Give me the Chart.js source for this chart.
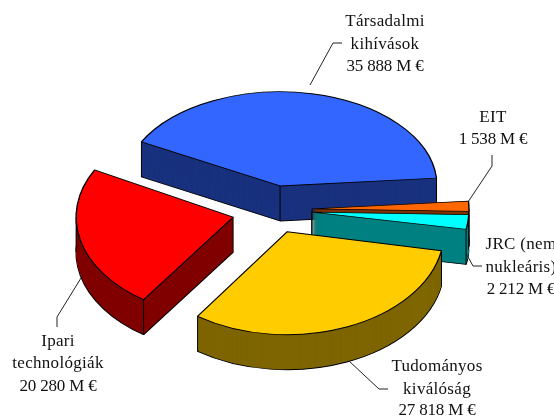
<!DOCTYPE html>
<html>
<head>
<meta charset="utf-8">
<style>
  html, body { margin: 0; padding: 0; background: #fff; }
  canvas { display: block; }
</style>
<script src="https://cdn.jsdelivr.net/npm/chart.js@4"></script>
</head>
<body>
<canvas id="pie3d" width="554" height="419"></canvas>
<script>
// values in M EUR, clockwise from the left edge of the blue slice
const categories = ['Társadalmi kihívások', 'EIT', 'JRC (nem nukleáris)', 'Tudományos kiválóság', 'Ipari technológiák'];
const values = [35888, 1538, 2212, 27818, 20280];
const topColours = ['#3366ff', '#ff6600', '#00ffff', '#ffcc00', '#ff0000'];
const sideColours = ['#1a337f', '#7f3300', '#008080', '#7f6600', '#800000'];

const labelLines = [
    ['Társadalmi', 'kihívások', '35 888 M €'],
    ['EIT', '1 538 M €'],
    ['JRC (nem', 'nukleáris)', '2 212 M €'],
    ['Tudományos', 'kiválóság', '27 818 M €'],
    ['Ipari', 'technológiák', '20 280 M €']
];
const labelX = [385, 493, 521, 437, 58];
const labelY = [[22, 45, 67], [118, 140], [245, 268, 290], [367, 390, 411], [342, 364, 387]];
const leaders = [
    [[310, 85], [333, 43], [342, 43]],
    [[468, 202], [492, 166], [492, 155]],
    [[467, 255], [473, 266], [482, 266]],
    [[349, 361], [379, 389], [388, 389]],
    [[81, 278], [57, 317], [57, 327]]
];

// tilt of the pie, explosion and wall height in px
// front slices get a bit more height, the original has some perspective
const squash = 0.6;
const sliceSquash = [0.6, 0.6, 0.6, 0.656, 0.64];
const sliceDrop = [0, 0, 0, 0, 2];
const explode = 40;
const depth = 35;
const wallStep = 0.25;

function sliceOrigin(arc, i) {
    const mid = (arc.startAngle + arc.endAngle) / 2;
    return {
        x: arc.x + Math.cos(mid) * explode,
        y: arc.y + squash * Math.sin(mid) * explode + sliceDrop[i]
    };
}

function withPose(ctx, arc, i, shift, fn) {
    const o = sliceOrigin(arc, i);
    ctx.save();
    ctx.translate(o.x - arc.x, o.y + shift);
    ctx.scale(1, sliceSquash[i]);
    ctx.translate(0, -arc.y);
    fn();
    ctx.restore();
}

function drawStyled(ctx, arc, style) {
    const saved = arc.options;
    arc.options = Object.assign({}, saved, style);
    arc.draw(ctx);
    arc.options = saved;
}

function wallEdges(ctx, arc, i) {
    const o = sliceOrigin(arc, i);
    const r = arc.outerRadius;
    const spots = [[o.x, o.y]];
    [arc.startAngle, arc.endAngle, Math.PI, 3 * Math.PI, 2 * Math.PI, 0].forEach(function (a) {
        if (a >= arc.startAngle && a <= arc.endAngle) {
            spots.push([o.x + r * Math.cos(a), o.y + sliceSquash[i] * r * Math.sin(a)]);
        }
    });
    ctx.save();
    ctx.strokeStyle = '#000';
    ctx.lineWidth = 1;
    spots.forEach(function (p) {
        ctx.beginPath();
        ctx.moveTo(p[0], p[1]);
        ctx.lineTo(p[0], p[1] + depth);
        ctx.stroke();
    });
    ctx.restore();
}

// the library has no 3D pie, so its arcs get squashed and stacked here
const pie3d = {
    id: 'pie3d',
    beforeDatasetsDraw(chart) {
        const ctx = chart.ctx;
        const arcs = chart.getDatasetMeta(0).data;
        arcs.forEach(function (arc, i) {
            withPose(ctx, arc, i, depth, function () {
                drawStyled(ctx, arc, { backgroundColor: sideColours[i] });
            });
            for (let d = depth - 1; d > 0; d -= wallStep) {
                withPose(ctx, arc, i, d, function () {
                    drawStyled(ctx, arc, { backgroundColor: sideColours[i], borderWidth: 0 });
                });
            }
            wallEdges(ctx, arc, i);
        });
        arcs.forEach(function (arc, i) {
            withPose(ctx, arc, i, 0, function () {
                arc.draw(ctx);
            });
        });
        return false;
    },
    afterDraw(chart) {
        const ctx = chart.ctx;
        ctx.save();
        ctx.strokeStyle = '#222';
        ctx.lineWidth = 1;
        leaders.forEach(function (pts) {
            ctx.beginPath();
            pts.forEach(function (p, k) {
                if (k === 0) { ctx.moveTo(p[0], p[1]); } else { ctx.lineTo(p[0], p[1]); }
            });
            ctx.stroke();
        });
        ctx.fillStyle = '#111';
        ctx.font = '17px "Liberation Serif"';
        ctx.textAlign = 'center';
        ctx.textBaseline = 'middle';
        labelLines.forEach(function (lines, i) {
            lines.forEach(function (line, k) {
                // the amount lines sit tighter than the word lines in the original
                ctx.letterSpacing = /\d/.test(line) ? '-0.2px' : '0.3px';
                ctx.fillText(line, labelX[i], labelY[i][k]);
            });
        });
        ctx.restore();
    }
};

new Chart(document.getElementById('pie3d'), {
    type: 'pie',
    data: {
        labels: categories,
        datasets: [{
            data: values,
            backgroundColor: topColours,
            borderColor: '#000',
            borderWidth: 1.4
        }]
    },
    options: {
        responsive: false,
        animation: false,
        rotation: -62,
        radius: 157,
        layout: { padding: { right: 10 } },
        plugins: {
            legend: { display: false },
            tooltip: { enabled: false }
        }
    },
    plugins: [pie3d]
});
</script>
</body>
</html>
